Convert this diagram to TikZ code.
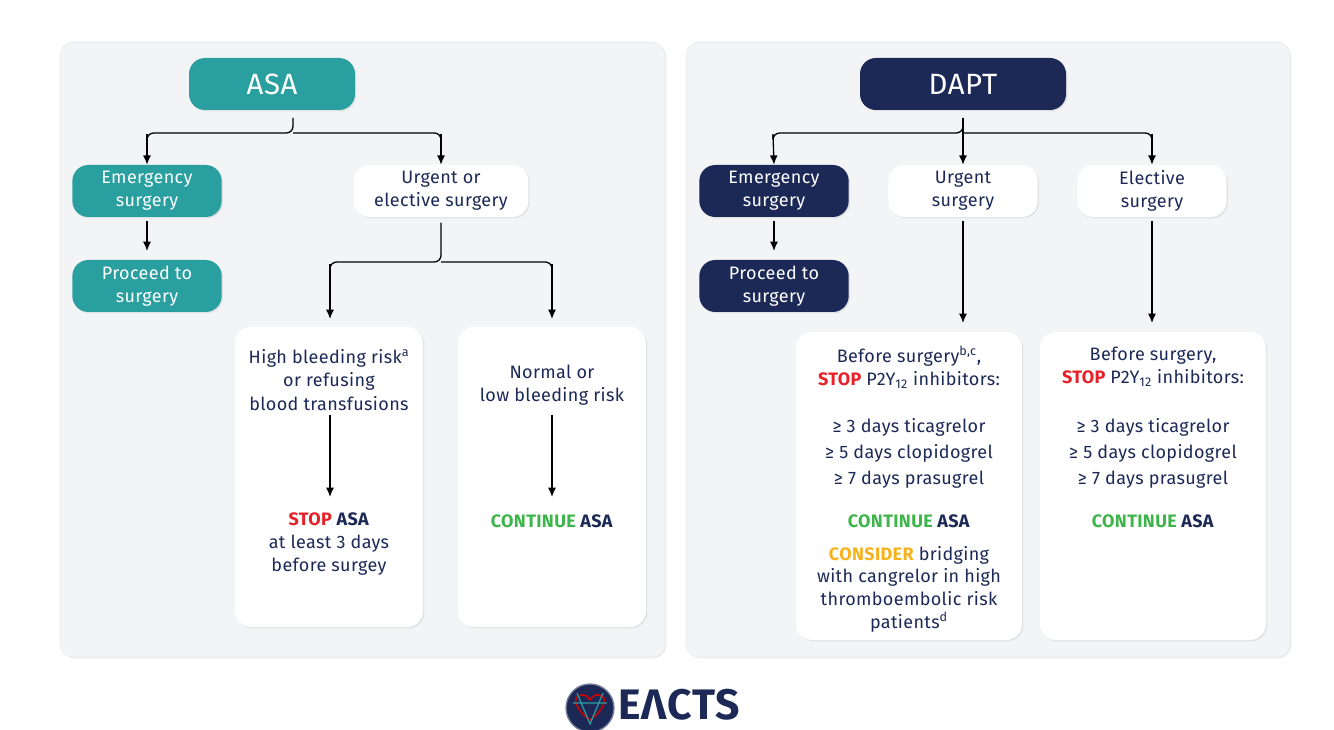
\documentclass[tikz,border=0pt]{standalone}
\usepackage{fontspec}
\setmainfont{Fira Sans}[LetterSpace=2]
\usetikzlibrary{shadows,arrows.meta}
\definecolor{teal}{HTML}{2A9FA0}
\definecolor{navy}{HTML}{1C2957}
\definecolor{panel}{HTML}{F3F4F6}
\definecolor{stopred}{HTML}{E8202A}
\definecolor{contgreen}{HTML}{3DB54A}
\definecolor{consid}{HTML}{F5B21B}
\begin{document}
\begin{tikzpicture}[x=0.75pt,y=-0.75pt,
  panelst/.style={fill=panel,rounded corners=10pt,draw=black!8,drop shadow={opacity=0.15,shadow xshift=1pt,shadow yshift=-1pt}},
  box/.style={rounded corners=12pt,drop shadow={opacity=0.15,shadow xshift=1pt,shadow yshift=-1pt},align=center,font=\fontsize{13.5}{17}\selectfont,inner sep=0pt},
  tealbox/.style={box,fill=teal,text=white},
  navybox/.style={box,fill=navy,text=white},
  whitebox/.style={box,fill=white,text=navy},
  txt/.style={align=center,text=navy,font=\fontsize{13.5}{17.5}\selectfont},
  arr/.style={-{Latex[length=7pt,width=6pt]},line width=1pt},
  ln/.style={line width=1pt,rounded corners=5pt}]
\useasboundingbox[fill=white] (0,0) rectangle (1334,730);
% panels
\draw[panelst] (60,42) rectangle (665,657);
\draw[panelst] (686,42) rectangle (1290,657);
% left
\node[tealbox,font=\fontsize{22}{26}\selectfont,minimum width=124.5pt,minimum height=39pt] (asa) at (272,84) {ASA};
\node[tealbox,minimum width=112pt,minimum height=39pt] (le) at (147,191) {Emergency\\surgery};
\node[tealbox,minimum width=112pt,minimum height=39pt] (lp) at (147,286) {Proceed to\\surgery};
\node[whitebox,minimum width=131pt,minimum height=39pt] (lu) at (441,191) {Urgent or\\elective surgery};
\node[whitebox,minimum width=141pt,minimum height=225pt] (lh) at (329,477) {};
\node[whitebox,minimum width=141pt,minimum height=225pt] (ln) at (552,477) {};
\coordinate (ab) at (293,118);
\draw[ln] (ab) -- (293,133) -- (147,133) -- (147,135);
\draw[ln] (293,133) -- (441,133) -- (441,135);
\draw[arr] (147,134) -- (le.north);
\draw[arr] (441,134) -- (lu.north);
\draw[arr] (147,221) -- (147,251);
\draw[ln] ([yshift=-4]lu.south) -- (441,262) -- (330,262) -- (330,265);
\draw[ln] (441,262) -- (552,262) -- (552,265);
\draw[arr] (330,264) -- (330,319);
\draw[arr] (552,264) -- (552,319);
\node[txt] (lht) at (329,380) {High bleeding risk\textsuperscript{a}\\or refusing\\blood transfusions};
\node[txt] (lhs) at (329,544) {\textbf{\textcolor{stopred}{STOP} ASA}\\at least 3 days\\before surgey};
\draw[arr] (330,415) -- (330,497);
\node[txt] (lnt) at (552,385) {Normal or\\low bleeding risk};
\draw[arr] (552,415) -- (552,497);
\node[txt] (lnc) at (552,521) {\textbf{\textcolor{contgreen}{CONTINUE} ASA}};
% right
\node[navybox,minimum width=154.5pt,minimum height=39pt,font=\fontsize{22}{26}\selectfont] (dapt) at (963,84) {DAPT};
\node[navybox,minimum width=112pt,minimum height=39pt] (re) at (774,191) {Emergency\\surgery};
\node[navybox,minimum width=112pt,minimum height=39pt] (rp) at (774,286) {Proceed to\\surgery};
\node[whitebox,minimum width=112pt,minimum height=39pt] (ru) at (963,191) {Urgent\\surgery};
\node[whitebox,minimum width=112pt,minimum height=39pt] (rl) at (1152,191) {Elective\\surgery};
\node[whitebox,minimum width=169.5pt,minimum height=231pt] (rb1) at (909,486) {};
\node[whitebox,minimum width=169.5pt,minimum height=231pt] (rb2) at (1153,486) {};
\coordinate (db) at (963,118);
\draw[ln] (db) -- (963,133) -- (773,133) -- (773,135);
\draw[ln] (963,133) -- (1152,133) -- (1152,135);
\draw[arr] (773,134) -- (re.north);
\draw[arr] (963,118) -- (ru.north);
\draw[arr] (1152,134) -- (rl.north);
\draw[arr] (774,221) -- (774,251);
\draw[arr] (963,221) -- (963,323);
\draw[arr] (1152,221) -- (1152,323);
\node[txt] at (909,367) {Before surgery\textsuperscript{b,c},\\\textbf{\textcolor{stopred}{STOP}} P2Y\textsubscript{12} inhibitors:};
\node[txt,font=\fontsize{13.5}{19.5}\selectfont] at (909,453) {≥ 3 days ticagrelor\\≥ 5 days clopidogrel\\≥ 7 days prasugrel};
\node[txt] at (909,521) {\textbf{\textcolor{contgreen}{CONTINUE} ASA}};
\node[txt,font=\fontsize{13.5}{17}\selectfont] at (909,589) {\textbf{\textcolor{consid}{CONSIDER}} bridging\\with cangrelor in high\\thromboembolic risk\\patients\textsuperscript{d}};
\node[txt] at (1153,367) {Before surgery,\\\textbf{\textcolor{stopred}{STOP}} P2Y\textsubscript{12} inhibitors:};
\node[txt,font=\fontsize{13.5}{19.5}\selectfont] at (1153,453) {≥ 3 days ticagrelor\\≥ 5 days clopidogrel\\≥ 7 days prasugrel};
\node[txt] at (1153,521) {\textbf{\textcolor{contgreen}{CONTINUE} ASA}};
% logo
\node[circle,fill=navy,draw=navy!60,line width=1pt,minimum size=36pt,inner sep=0pt] (logo) at (590,708) {};
\draw[red!80!black,line width=1.2pt] (581,695) .. controls (570,697) and (577,711) .. (590,720) .. controls (603,711) and (610,697) .. (599,695) .. controls (595,694) and (592,697) .. (590,700) .. controls (588,697) and (585,694) .. (581,695);
\draw[teal,line width=0.9pt] (573,703) -- (607,703) (577,693) -- (590,724) -- (603,693);
\node[anchor=west,text=navy,font=\fontsize{32}{34}\selectfont\bfseries,inner sep=0pt] (eacts) at (618,705) {EΛCTS};
\end{tikzpicture}
\end{document}
